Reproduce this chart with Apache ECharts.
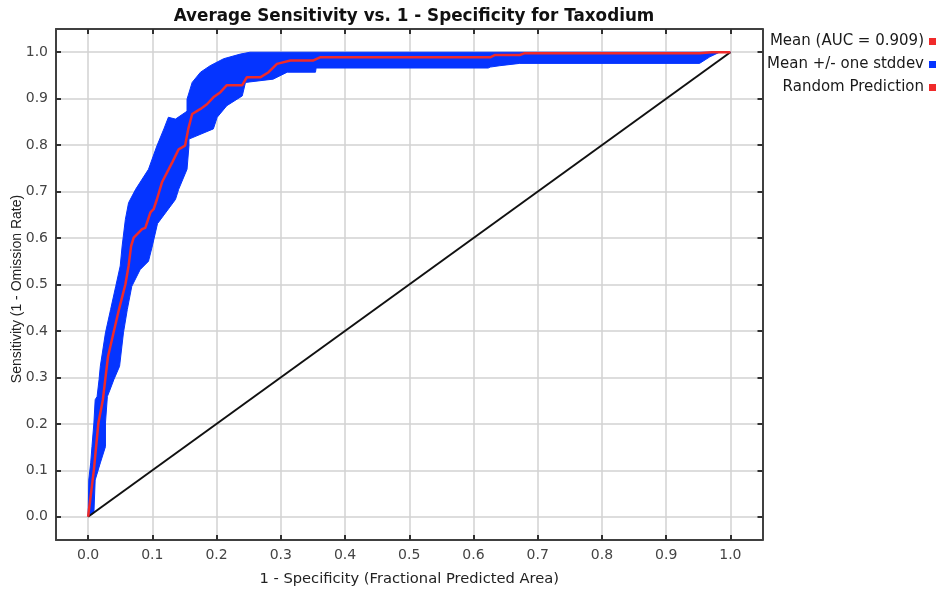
<!DOCTYPE html>
<html>
<head>
<meta charset="utf-8">
<title>Average Sensitivity vs. 1 - Specificity for Taxodium</title>
<script src="https://cdn.jsdelivr.net/npm/echarts@6/dist/echarts.min.js"></script>
<style>
  html, body { margin: 0; padding: 0; background: #ffffff; }
  #chart { width: 947px; height: 602px; }
</style>
</head>
<body>
<div id="chart"></div>
<script>
// Tick positions shared by both axes
const tickValues = [0.0, 0.1, 0.2, 0.3, 0.4, 0.5, 0.6, 0.7, 0.8, 0.9, 1.0];

// Mean ROC curve: [1 - specificity, sensitivity]
const meanCurve = [
  [0.000, 0.000], [0.009, 0.101], [0.016, 0.202], [0.023, 0.252], [0.027, 0.299],
  [0.031, 0.345], [0.040, 0.399], [0.048, 0.446], [0.058, 0.500], [0.063, 0.540],
  [0.067, 0.583], [0.071, 0.601], [0.084, 0.619], [0.089, 0.622], [0.097, 0.655],
  [0.102, 0.662], [0.107, 0.683], [0.115, 0.720], [0.131, 0.763], [0.141, 0.791],
  [0.151, 0.799], [0.156, 0.835], [0.162, 0.867], [0.175, 0.878], [0.185, 0.888],
  [0.195, 0.903], [0.206, 0.914], [0.216, 0.929], [0.240, 0.929], [0.247, 0.946],
  [0.268, 0.946], [0.281, 0.957], [0.294, 0.975], [0.315, 0.982], [0.350, 0.982],
  [0.361, 0.989], [0.626, 0.989], [0.633, 0.994], [0.672, 0.994], [0.680, 0.998],
  [0.952, 0.998], [0.971, 1.000], [1.000, 1.000]
];

// Mean + one standard deviation (upper edge of the band)
const upperEdge = [
  [0.000, 0.000], [0.001, 0.079], [0.004, 0.116], [0.006, 0.151], [0.009, 0.202],
  [0.011, 0.252], [0.014, 0.259], [0.017, 0.295], [0.019, 0.324], [0.027, 0.396],
  [0.035, 0.446], [0.043, 0.496], [0.050, 0.540], [0.053, 0.583], [0.058, 0.640],
  [0.063, 0.676], [0.074, 0.705], [0.094, 0.748], [0.107, 0.798], [0.118, 0.835],
  [0.125, 0.860], [0.136, 0.856], [0.154, 0.873], [0.154, 0.899], [0.162, 0.935],
  [0.175, 0.957], [0.190, 0.971], [0.211, 0.986], [0.237, 0.996], [0.252, 1.000],
  [1.000, 1.000]
];

// Mean - one standard deviation (lower edge of the band)
const lowerEdge = [
  [0.000, 0.000], [0.009, 0.008], [0.011, 0.079], [0.019, 0.116], [0.027, 0.151],
  [0.027, 0.202], [0.030, 0.259], [0.034, 0.273], [0.040, 0.295], [0.049, 0.324],
  [0.055, 0.396], [0.061, 0.446], [0.068, 0.496], [0.081, 0.532], [0.094, 0.550],
  [0.100, 0.583], [0.108, 0.631], [0.136, 0.683], [0.141, 0.705], [0.154, 0.748],
  [0.157, 0.798], [0.157, 0.813], [0.195, 0.835], [0.201, 0.860], [0.216, 0.885],
  [0.240, 0.906], [0.245, 0.935], [0.288, 0.942], [0.310, 0.957], [0.354, 0.957],
  [0.355, 0.966], [0.623, 0.966], [0.626, 0.968], [0.641, 0.971], [0.672, 0.976],
  [0.952, 0.976], [0.968, 0.990], [0.983, 1.000], [1.000, 1.000]
];

// Diagonal of a random classifier
const randomLine = [[0.0, 0.0], [1.0, 1.0]];

const seriesNames = ['Mean (AUC = 0.909)', 'Mean +/- one stddev', 'Random Prediction'];
const xAxisTitle = '1 - Specificity (Fractional Predicted Area)';
const yAxisTitle = 'Sensitivity (1 - Omission Rate)';

const RED = '#f02a2a';
const BLUE = '#0534ff';
const FONT = '"DejaVu Sans", Verdana, sans-serif';
const FONT_V = '"Liberation Sans", Arial, sans-serif';

const chart = echarts.init(document.getElementById('chart'), null, { renderer: 'canvas' });

function frameAxis(position, showLabels) {
  return {
    type: 'value',
    position: position,
    min: -0.05,
    max: 1.05,
    axisLine: { show: true, onZero: false, lineStyle: { color: '#404040', width: 2 } },
    axisTick: { show: true, inside: true, length: 5, customValues: tickValues,
                lineStyle: { color: '#303030', width: 2 } },
    axisLabel: { show: showLabels, customValues: tickValues, margin: 8,
                 color: '#444444', fontSize: 14, fontFamily: FONT,
                 formatter: v => v.toFixed(1) },
    splitLine: { show: showLabels, lineStyle: { color: '#d2d2d2', width: 1.5 } }
  };
}

function legendRow(name, color, top) {
  return {
    data: [{ name: name, itemStyle: { color: color } }],
    orient: 'vertical',
    right: 11,
    top: top,
    padding: 0,
    align: 'right',
    icon: 'rect',
    itemWidth: 7,
    itemHeight: 7,
    selectedMode: false,
    textStyle: { fontSize: 15, color: '#1a1a1a', fontFamily: FONT }
  };
}

const xBottom = Object.assign(frameAxis('bottom', true), {
  name: xAxisTitle,
  nameLocation: 'middle',
  nameGap: 32,
  nameTextStyle: { fontSize: 14.7, color: '#222222', fontFamily: FONT }
});

chart.setOption({
  animation: false,
  backgroundColor: '#ffffff',
  title: {
    text: 'Average Sensitivity vs. 1 - Specificity for Taxodium',
    left: 409,
    top: 3,
    textAlign: 'center',
    textStyle: { fontSize: 16.8, fontWeight: 'bold', color: '#111111', fontFamily: FONT }
  },
  legend: [
    legendRow(seriesNames[0], RED, 34),
    legendRow(seriesNames[1], BLUE, 57),
    legendRow(seriesNames[2], RED, 80)
  ],
  // vertical y-axis title, centred beside the plot
  graphic: [{
    type: 'text',
    x: 17,
    y: 289,
    rotation: Math.PI / 2,
    style: {
      text: yAxisTitle,
      align: 'center',
      verticalAlign: 'middle',
      fill: '#222222',
      fontSize: 14,
      fontFamily: FONT_V
    }
  }],
  grid: { left: 56, top: 29, right: 184.5, bottom: 62, outerBoundsMode: 'none' },
  xAxis: [xBottom, frameAxis('top', false)],
  yAxis: [frameAxis('left', true), frameAxis('right', false)],
  series: [
    {
      name: seriesNames[1],
      type: 'custom',
      xAxisIndex: 0,
      yAxisIndex: 0,
      clip: true,
      z: 1,
      data: [[0, 0]],
      encode: { x: 0, y: 1 },
      renderItem: function (params, api) {
        const pts = upperEdge.map(p => api.coord(p))
          .concat(lowerEdge.slice().reverse().map(p => api.coord(p)));
        return {
          type: 'polygon',
          shape: { points: pts },
          style: { fill: BLUE, stroke: BLUE, lineWidth: 1 }
        };
      }
    },
    {
      name: seriesNames[2],
      type: 'line',
      z: 2,
      data: randomLine,
      symbol: 'none',
      itemStyle: { color: RED },
      lineStyle: { color: '#111111', width: 2 }
    },
    {
      name: seriesNames[0],
      type: 'line',
      z: 3,
      data: meanCurve,
      symbol: 'none',
      itemStyle: { color: RED },
      lineStyle: { color: RED, width: 2.5 }
    }
  ]
});
</script>
</body>
</html>
